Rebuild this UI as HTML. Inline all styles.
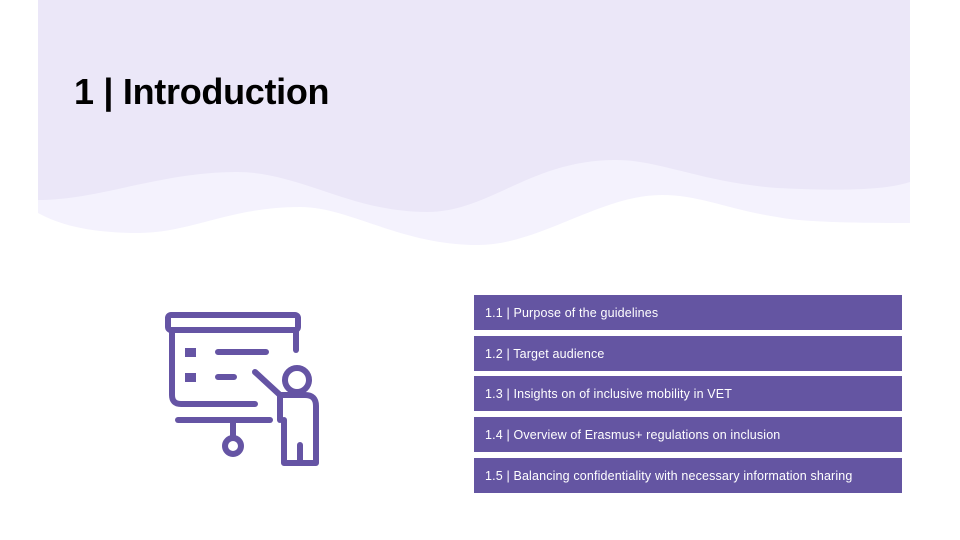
<!DOCTYPE html>
<html><head><meta charset="utf-8"><style>
body{margin:0;width:960px;height:540px;background:#fff;position:relative;overflow:hidden;font-family:"Liberation Sans",sans-serif}
h1{position:absolute;left:74px;top:71px;margin:0;font-size:36px;font-weight:bold;color:#000;letter-spacing:-0.3px}
.it{position:absolute;left:474px;width:428px;height:35px;background:#6455a2;color:#fff;font-size:12.5px;line-height:37px;padding-left:11px;box-sizing:border-box;letter-spacing:0.15px}
</style></head><body>
<svg width="960" height="540" style="position:absolute;left:0;top:0">
<path d="M38 0H910V223C850 223 800 222 777 217C730 210 700 195 662 195C600 195 540 245 478 245C400 245 350 207 300 207C230 207 190 233 139 233C90 233 60 225 38 213Z" fill="#f4f2fd"/>
<path d="M38 0H910V182C880 192 820 190 777 188C700 182 660 160 616 160C530 160 490 212 427 212C350 212 300 172 237 172C160 172 100 200 38 200Z" fill="#ebe7f8"/>
<g fill="none" stroke="#6554a4" stroke-width="6" stroke-linecap="round" stroke-linejoin="round">
<rect x="168" y="315" width="130" height="15" rx="3"/>
<path d="M172 330V395Q172 404 181 404H255"/>
<path d="M178 420H270"/>
<path d="M296 330V350"/>
<path d="M218 352H266M218 377H234"/>
<path d="M233 420V437"/>
<circle cx="233" cy="446" r="8"/>
<circle cx="297" cy="380" r="12"/>
<path d="M255 372L280 395H305Q316 395 316 406V463H284V420M300 463V445"/>
<path d="M280 395V420"/>
</g>
<rect x="185" y="348" width="11" height="9" fill="#6554a4"/>
<rect x="185" y="373" width="11" height="9" fill="#6554a4"/>
</svg>
<h1>1 | Introduction</h1>
<div class="it" style="top:295px">1.1 | Purpose of the guidelines</div>
<div class="it" style="top:336px">1.2 | Target audience</div>
<div class="it" style="top:376px">1.3 | Insights on of inclusive mobility in VET</div>
<div class="it" style="top:417px">1.4 | Overview of Erasmus+ regulations on inclusion</div>
<div class="it" style="top:458px">1.5 | Balancing confidentiality with necessary information sharing</div>
</body></html>
